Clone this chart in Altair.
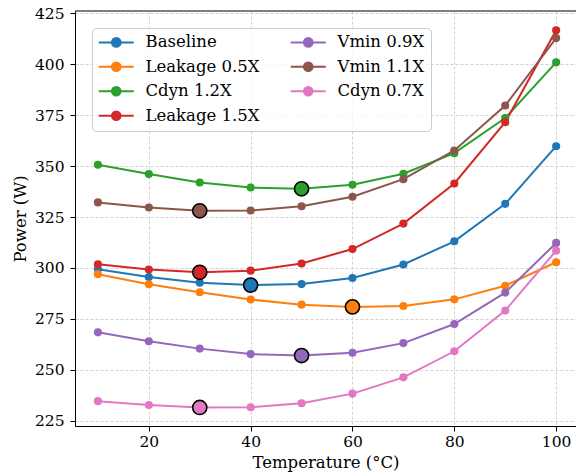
import altair as alt
import pandas as pd

temps = [10, 20, 30, 40, 50, 60, 70, 80, 90, 100]
series_names = ["Baseline", "Leakage 0.5X", "Cdyn 1.2X", "Leakage 1.5X",
                "Vmin 0.9X", "Vmin 1.1X", "Cdyn 0.7X"]
baseline = [299.4, 295.6, 292.8, 291.6, 292.1, 295.1, 301.7, 313.1, 331.5, 359.8]
leak05 = [296.9, 292.0, 288.1, 284.5, 282.0, 280.9, 281.3, 284.6, 291.3, 302.8]
cdyn12 = [350.7, 346.1, 342.0, 339.5, 338.9, 340.9, 346.3, 356.4, 373.6, 401.0]
leak15 = [301.8, 299.2, 297.9, 298.7, 302.2, 309.3, 321.8, 341.5, 371.6, 416.7]
vmin09 = [268.4, 264.0, 260.4, 257.7, 257.0, 258.4, 263.1, 272.5, 287.9, 312.3]
vmin11 = [332.2, 329.7, 328.1, 328.2, 330.3, 335.0, 343.6, 357.7, 379.8, 412.9]
cdyn07 = [234.6, 232.7, 231.5, 231.6, 233.6, 238.3, 246.3, 259.1, 279.1, 308.5]
values = [baseline, leak05, cdyn12, leak15, vmin09, vmin11, cdyn07]
colors = ["#1f77b4", "#ff7f0e", "#2ca02c", "#d62728", "#9467bd", "#8c564b", "#e377c2"]
opt_temps = [40, 60, 50, 30, 50, 30, 30]

x_ticks = [20, 40, 60, 80, 100]
y_ticks = [225, 250, 275, 300, 325, 350, 375, 400, 425]

rows = []
for i, (name, vals) in enumerate(zip(series_names, values)):
    for t, v in zip(temps, vals):
        rows.append({"series": name, "temp": t, "power": v, "idx": i,
                     "opt": t == opt_temps[i]})
df = pd.DataFrame(rows)
df_opt = df[df["opt"]]

FONT = "DejaVu Serif"
W, H = 501, 415

xs = alt.Scale(domain=[5.5, 103.9], nice=False, zero=False)
ys = alt.Scale(domain=[222.4, 426.2], nice=False, zero=False)
cs = alt.Scale(domain=series_names, range=colors)

# line handle with a dot in the middle (unit = 7px for symbolSize 196)
sym_path = "M-2.5,0H2.5M0.62,0A0.62,0.62,0,1,1,-0.62,0A0.62,0.62,0,1,1,0.62,0Z"

legend = alt.Legend(
    title=None, orient="top-left", offset=17, columns=2, columnPadding=26,
    rowPadding=6.5, symbolType=sym_path, symbolSize=196, symbolStrokeWidth=2,
    symbolOffset=10,
    labelFont=FONT, labelFontSize=16.5, labelColor="black", labelOffset=21,
    padding=6, fillColor="rgba(255,255,255,0.8)", strokeColor="#cccccc",
    cornerRadius=4, labelLimit=250,
)

base = alt.Chart(df)
x_enc = alt.X("temp:Q", scale=xs, title="Temperature (°C)",
              axis=alt.Axis(values=x_ticks, labelPadding=3, titlePadding=5))
y_enc = alt.Y("power:Q", scale=ys, title="Power (W)",
              axis=alt.Axis(values=y_ticks, labelPadding=6, titlePadding=6))

lines = base.mark_line(strokeWidth=2).encode(
    x=x_enc, y=y_enc,
    color=alt.Color("series:N", scale=cs, legend=legend),
    detail="series:N",
    order="temp:Q",
)
points = base.mark_point(filled=True, size=66, opacity=1).encode(
    x=x_enc, y=y_enc,
    color=alt.Color("series:N", scale=cs, legend=legend),
)
hl = alt.Chart(df_opt).mark_point(filled=True, size=200, opacity=1,
                                  stroke="black", strokeWidth=1.6).encode(
    x=x_enc, y=y_enc,
    color=alt.Color("series:N", scale=cs, legend=legend),
)
top_spine = alt.Chart(pd.DataFrame({"a": [0]})).mark_rule(
    color="black", strokeWidth=1).encode(
    x=alt.value(0), x2=alt.value(W), y=alt.value(0))

chart = alt.layer(lines, points, hl, top_spine).properties(
    width=W, height=H,
    autosize=alt.AutoSizeParams(type="none"),
    padding={"left": 75, "top": 11, "right": 0, "bottom": 50},
).configure_view(stroke=None).configure_axis(
    labelFont=FONT, titleFont=FONT, labelFontSize=15.5, titleFontSize=16.5,
    titleFontWeight="normal", labelColor="black", titleColor="black",
    domainColor="black", domainWidth=1, tickColor="black", tickSize=5,
    tickWidth=1, grid=True, gridColor="#c8c8c8", gridDash=[3, 2],
    gridWidth=0.8,
)

chart.save("out.html", embed_options={"renderer": "svg", "actions": False})
